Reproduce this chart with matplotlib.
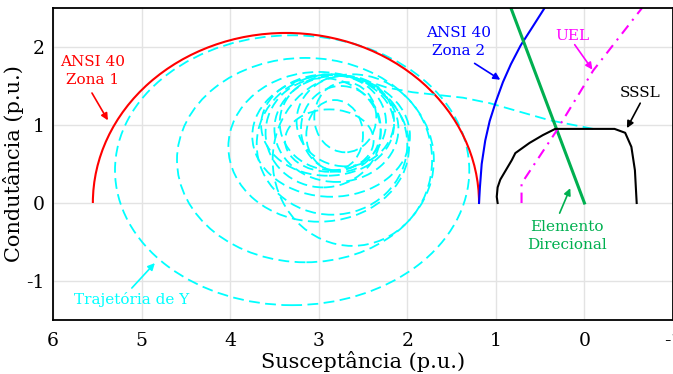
import numpy as np
import matplotlib.pyplot as plt
from matplotlib.patches import Arc, Ellipse

plt.rcParams['font.family'] = 'DejaVu Serif'
plt.rcParams['axes.unicode_minus'] = False

# ANSI 40 zona 1: semicirculo (centro em B, raio)
z1_center = 3.37
z1_radius = 2.18

# ANSI 40 zona 2
z2_B = [1.19, 1.18, 1.16, 1.12, 1.07, 1.00, 0.92, 0.83, 0.72, 0.59, 0.45]
z2_G = [0.00, 0.20, 0.50, 0.80, 1.05, 1.30, 1.55, 1.78, 2.02, 2.25, 2.50]

# elemento direcional
dir_B = [0.00, 0.83]
dir_G = [0.00, 2.50]

# UEL
uel_B = [0.71, 0.71, 0.33, -0.10, -0.65]
uel_G = [0.00, 0.25, 0.90, 1.70, 2.50]

# SSSL
sssl_B = [0.98, 0.99, 0.98, 0.95, 0.82, 0.78, 0.62, 0.47, 0.33, -0.34, -0.46, -0.53, -0.57, -0.59]
sssl_G = [0.00, 0.08, 0.20, 0.30, 0.55, 0.64, 0.77, 0.87, 0.95, 0.95, 0.90, 0.72, 0.42, 0.00]

# trajetoria de Y: trecho inicial
traj_B = [-0.10, 0.39, 0.73, 1.07, 1.37, 1.94, 2.23, 2.50, 2.75]
traj_G = [0.95, 1.06, 1.17, 1.28, 1.35, 1.42, 1.48, 1.58, 1.64]

# laços da trajetoria (centro B, centro G, semi-eixo B, semi-eixo G)
loop_cB = [3.30, 3.15, 3.00, 2.62, 2.85, 2.86, 2.90, 2.84, 2.75, 2.82, 2.95, 2.70, 2.80, 2.88, 2.70]
loop_cG = [0.42, 0.55, 0.72, 0.55, 0.75, 0.86, 1.00, 1.03, 0.95, 0.87, 0.90, 1.05, 0.95, 0.80, 1.10]
loop_rB = [2.00, 1.45, 1.02, 0.90, 0.85, 0.89, 0.75, 0.60, 0.45, 0.32, 0.65, 0.55, 0.70, 0.50, 0.35]
loop_rG = [1.73, 1.31, 0.96, 1.10, 0.90, 0.78, 0.65, 0.61, 0.55, 0.45, 0.70, 0.58, 0.68, 0.40, 0.45]

cyan = '#00ffff'
green = '#00b050'
dash = (0, (6, 3))

fig = plt.figure(figsize=(6.73, 3.74), dpi=100)
ax = fig.add_axes([53/673, 54/374, 620/673, 312/374])

for cb, cg, rb, rg in zip(loop_cB, loop_cG, loop_rB, loop_rG):
    ax.add_patch(Ellipse((cb, cg), 2*rb, 2*rg, fill=False, ec=cyan, lw=1.3, ls=dash))
ax.plot(traj_B, traj_G, color=cyan, lw=1.3, ls=dash)

ax.add_patch(Arc((z1_center, 0), 2*z1_radius, 2*z1_radius, theta1=0, theta2=180, color='red', lw=1.5))
ax.plot(z2_B, z2_G, color='blue', lw=1.5)
ax.plot(dir_B, dir_G, color=green, lw=2.2)
ax.plot(uel_B, uel_G, color='magenta', lw=1.5, ls=(0, (5, 3, 1, 3)))
ax.plot(sssl_B, sssl_G, color='black', lw=1.5)

ax.set_xlim(6, -1)
ax.set_ylim(-1.5, 2.5)
ax.set_xticks(np.arange(6, -2, -1))
ax.set_yticks([-1, 0, 1, 2])
ax.grid(color='#e3e3e3', lw=1)
ax.set_axisbelow(True)
ax.tick_params(length=0, labelsize=13.5)
ax.tick_params(axis='x', pad=9)
ax.tick_params(axis='y', pad=6)
for s in ax.spines.values():
    s.set_linewidth(1.3)
ax.set_xlabel('Susceptância (p.u.)', fontsize=15, labelpad=0)
ax.set_ylabel('Condutância (p.u.)', fontsize=15, labelpad=2)

def note(txt, pos, tail, head, color):
    ax.text(pos[0], pos[1], txt, color=color, fontsize=11, ha='center', va='center', multialignment='center', linespacing=1.35)
    ax.annotate('', xy=head, xytext=tail,
                arrowprops=dict(arrowstyle='-|>', color=color, lw=1.2, mutation_scale=10, shrinkA=0, shrinkB=0))

note('ANSI 40\nZona 1', (5.55, 1.69), (5.56, 1.41), (5.38, 1.06), 'red')
note('ANSI 40\nZona 2', (1.42, 2.06), (1.24, 1.79), (0.95, 1.58), 'blue')
note('UEL', (0.14, 2.14), (0.11, 2.03), (-0.09, 1.71), 'magenta')
note('SSSL', (-0.63, 1.41), (-0.63, 1.28), (-0.48, 0.96), 'black')
note('Elemento\nDirecional', (0.20, -0.42), (0.28, -0.13), (0.16, 0.19), green)
note('Trajetória de Y', (5.11, -1.24), (5.11, -1.09), (4.85, -0.77), cyan)

fig.savefig('out.png', dpi=100)
